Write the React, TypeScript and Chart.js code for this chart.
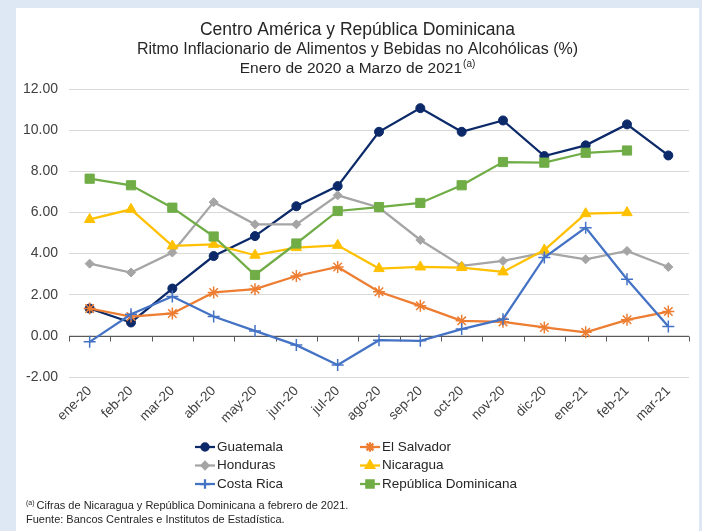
import React, { useEffect, useRef } from "react";
import { Chart, registerables } from "chart.js";
import { drawPoint } from "chart.js/helpers";

Chart.register(...registerables);

const categories = ["ene-20", "feb-20", "mar-20", "abr-20", "may-20", "jun-20", "jul-20", "ago-20", "sep-20", "oct-20", "nov-20", "dic-20", "ene-21", "feb-21", "mar-21"];

const guatemala = [1.33, 0.65, 2.3, 3.88, 4.85, 6.3, 7.28, 9.92, 11.07, 9.92, 10.47, 8.74, 9.26, 10.28, 8.77];
const elSalvador = [1.33, 0.94, 1.09, 2.11, 2.27, 2.91, 3.35, 2.14, 1.46, 0.73, 0.68, 0.41, 0.17, 0.78, 1.18];
const honduras = [3.51, 3.08, 4.05, 6.5, 5.42, 5.42, 6.83, 6.24, 4.66, 3.4, 3.64, 4.05, 3.72, 4.13, 3.35];
const nicaragua = [5.66, 6.15, 4.37, 4.45, 3.92, 4.29, 4.4, 3.27, 3.35, 3.32, 3.11, 4.17, 5.94, 5.99, null];
const costaRica = [-0.29, 1.05, 1.91, 0.94, 0.24, -0.45, -1.42, -0.21, -0.24, 0.33, 0.81, 3.81, 5.26, 2.75, 0.46];
const repDominicana = [7.64, 7.32, 6.23, 4.83, 2.96, 4.49, 6.07, 6.26, 6.46, 7.32, 8.45, 8.42, 8.9, 9.01, null];

const seriesNames = ["Guatemala", "El Salvador", "Honduras", "Nicaragua", "Costa Rica", "República Dominicana"];
const seriesColors = ["#0c2a6a", "#ed7d31", "#a5a5a5", "#ffc000", "#4472c4", "#70ad47"];

const yMin = -2;
const yMax = 12;
const yStep = 2;

const titleLines = [
  "Centro América y República Dominicana",
  "Ritmo Inflacionario de Alimentos y Bebidas no Alcohólicas (%)",
  "Enero de 2020 a Marzo de 2021",
];
const titleSup = "(a)";
const footnoteSup = "(a)";
const footnoteLines = [
  "Cifras de Nicaragua y República Dominicana a febrero de 2021.",
  "Fuente: Bancos Centrales e Institutos de Estadística.",
];

const FONT = "'Liberation Sans', Arial, sans-serif";
const BG = "#dde8f4";

export default function App() {
  const ref = useRef<HTMLCanvasElement>(null);

  useEffect(() => {
    document.body.style.margin = "0";
    const canvas = ref.current!;
    const dataArrays = [guatemala, elSalvador, honduras, nicaragua, costaRica, repDominicana];
    const styles = [
      { style: "circle", radius: 4.5, bw: 1 },
      { style: "star", radius: 6, bw: 1.5 },
      { style: "rectRot", radius: 4.5, bw: 1 },
      { style: "triangle", radius: 6, bw: 1 },
      { style: "cross", radius: 6, bw: 1.5 },
      { style: "rect", radius: 6.5, bw: 1 },
    ];

    const bgPlugin = {
      id: "bgPanel",
      beforeDraw(chart: any) {
        const c = chart.ctx;
        c.save();
        c.fillStyle = BG;
        c.fillRect(0, 0, chart.width, chart.height);
        c.fillStyle = "#ffffff";
        c.fillRect(16, 8, 683, chart.height - 8);
        c.restore();
      },
    };

    const axisPlugin = {
      id: "zeroAxis",
      beforeDatasetsDraw(chart: any) {
        const { ctx, chartArea, scales } = chart;
        const yy = Math.round(scales.y.getPixelForValue(0)) + 0.5;
        const step = scales.x.getPixelForValue(1) - scales.x.getPixelForValue(0);
        ctx.save();
        ctx.strokeStyle = "#595959";
        ctx.lineWidth = 1;
        ctx.beginPath();
        ctx.moveTo(chartArea.left, yy);
        ctx.lineTo(chartArea.right, yy);
        for (let i = 0; i <= categories.length; i++) {
          const x = Math.round(scales.x.getPixelForValue(i) - step / 2) + 0.5;
          ctx.moveTo(x, yy);
          ctx.lineTo(x, yy + 5);
        }
        ctx.stroke();
        ctx.restore();
      },
    };

    const textPlugin = {
      id: "texts",
      afterDraw(chart: any) {
        const ctx = chart.ctx;
        ctx.save();
        ctx.fillStyle = "#262626";
        ctx.textBaseline = "middle";
        const cx = 357.5;
        ctx.textAlign = "center";
        ctx.font = `17.5px ${FONT}`;
        ctx.fillText(titleLines[0], cx, 30);
        ctx.font = `16px ${FONT}`;
        ctx.fillText(titleLines[1], cx, 50);
        ctx.textAlign = "left";
        ctx.font = `15.5px ${FONT}`;
        const w1 = ctx.measureText(titleLines[2]).width;
        ctx.font = `10px ${FONT}`;
        const w2 = ctx.measureText(titleSup).width;
        const start = cx - (w1 + w2 + 1) / 2;
        ctx.font = `15.5px ${FONT}`;
        ctx.fillText(titleLines[2], start, 68.5);
        ctx.font = `10px ${FONT}`;
        ctx.fillText(titleSup, start + w1 + 1, 64);

        // legend
        for (let i = 0; i < seriesNames.length; i++) {
          const col = i % 2;
          const row = Math.floor(i / 2);
          const x0 = col === 0 ? 195 : 360;
          const y = 447 + row * 18.5;
          ctx.strokeStyle = seriesColors[i];
          ctx.lineWidth = 2.25;
          ctx.beginPath();
          ctx.moveTo(x0, y);
          ctx.lineTo(x0 + 20, y);
          ctx.stroke();
          ctx.fillStyle = seriesColors[i];
          ctx.strokeStyle = seriesColors[i];
          drawPoint(ctx, { pointStyle: styles[i].style as any, radius: styles[i].radius * 0.8, borderWidth: styles[i].bw, rotation: 0 }, x0 + 10, y);
          ctx.fillStyle = "#262626";
          ctx.font = `13.5px ${FONT}`;
          ctx.textBaseline = "middle";
          ctx.textAlign = "left";
          ctx.fillText(seriesNames[i], x0 + 22, y);
        }

        // footnotes
        ctx.fillStyle = "#262626";
        ctx.font = `7px ${FONT}`;
        ctx.fillText(footnoteSup, 26, 503);
        const sw = ctx.measureText(footnoteSup).width;
        ctx.font = `11px ${FONT}`;
        ctx.fillText(footnoteLines[0], 26 + sw + 2, 506);
        ctx.fillText(footnoteLines[1], 26, 520);
        ctx.restore();
      },
    };

    const chart = new Chart(canvas, {
      type: "line",
      data: {
        labels: categories,
        datasets: dataArrays.map((d, i) => ({
          label: seriesNames[i],
          data: d,
          borderColor: seriesColors[i],
          backgroundColor: seriesColors[i],
          pointBackgroundColor: seriesColors[i],
          pointBorderColor: seriesColors[i],
          pointStyle: styles[i].style as any,
          pointRadius: styles[i].radius,
          pointBorderWidth: styles[i].bw,
          borderWidth: 2.25,
          tension: 0,
          fill: false,
          order: dataArrays.length - i,
        })),
      },
      options: {
        responsive: false,
        animation: false,
        devicePixelRatio: 1,
        layout: { padding: { left: 0, right: 13, top: 89, bottom: 94 } },
        plugins: {
          legend: { display: false },
          title: { display: false },
          tooltip: { enabled: false },
        },
        scales: {
          x: {
            offset: true,
            grid: { display: false, drawTicks: false },
            border: { display: false },
            ticks: {
              autoSkip: false,
              maxRotation: 45,
              minRotation: 45,
              padding: 6,
              color: "#404040",
              font: { size: 13.5, family: FONT },
            },
            afterFit: (s: any) => {
              s.height = 60;
            },
          },
          y: {
            min: yMin,
            max: yMax,
            grid: { color: "#d9d9d9", drawTicks: false },
            border: { display: false },
            ticks: {
              stepSize: yStep,
              padding: 11,
              color: "#404040",
              font: { size: 14, family: FONT },
              callback: (v: any) => Number(v).toFixed(2),
            },
            afterFit: (s: any) => {
              s.width = 69;
            },
          },
        },
      },
      plugins: [bgPlugin, axisPlugin, textPlugin],
    });
    return () => chart.destroy();
  }, []);

  return <canvas ref={ref} width={702} height={531} style={{ display: "block", width: 702, height: 531 }} />;
}
